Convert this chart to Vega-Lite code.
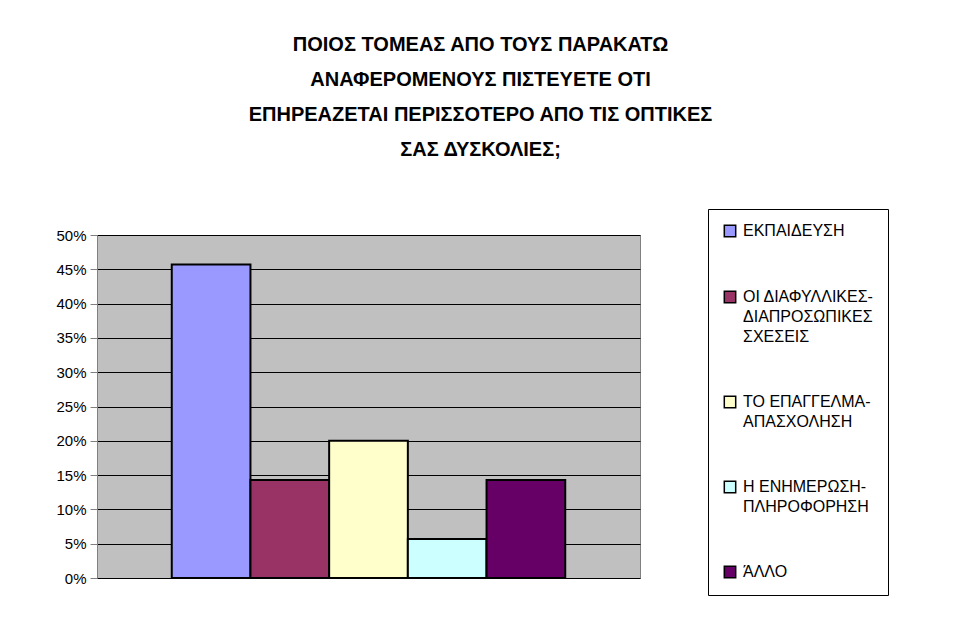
{
  "$schema": "https://vega.github.io/schema/vega-lite/v6.json",
  "width": 543,
  "height": 343,
  "autosize": {"type": "none"},
  "padding": {"left": 97, "top": 235, "right": 317, "bottom": 58},
  "background": "white",
  "title": {
    "text": ["ΠΟΙΟΣ ΤΟΜΕΑΣ ΑΠΟ ΤΟΥΣ ΠΑΡΑΚΑΤΩ", "ΑΝΑΦΕΡΟΜΕΝΟΥΣ ΠΙΣΤΕΥΕΤΕ ΟΤΙ", "ΕΠΗΡΕΑΖΕΤΑΙ ΠΕΡΙΣΣΟΤΕΡΟ ΑΠΟ ΤΙΣ ΟΠΤΙΚΕΣ", "ΣΑΣ ΔΥΣΚΟΛΙΕΣ;"],
    "font": "Liberation Sans",
    "fontSize": 20,
    "fontWeight": "bold",
    "color": "black",
    "lineHeight": 35,
    "anchor": "middle",
    "frame": "group",
    "dx": 112,
    "offset": 49
  },
  "data": {
    "values": [
      {"sector": "ΕΚΠΑΙΔΕΥΣΗ", "share": 0.457},
      {"sector": "ΟΙ ΔΙΑΦΥΛΛΙΚΕΣ-ΔΙΑΠΡΟΣΩΠΙΚΕΣ ΣΧΕΣΕΙΣ", "share": 0.143},
      {"sector": "ΤΟ ΕΠΑΓΓΕΛΜΑ-ΑΠΑΣΧΟΛΗΣΗ", "share": 0.2},
      {"sector": "Η ΕΝΗΜΕΡΩΣΗ-ΠΛΗΡΟΦΟΡΗΣΗ", "share": 0.057},
      {"sector": "ΆΛΛΟ", "share": 0.143}
    ]
  },
  "mark": {"type": "bar", "stroke": "black", "strokeWidth": 2},
  "encoding": {
    "x": {
      "field": "sector",
      "type": "nominal",
      "sort": null,
      "scale": {"paddingInner": 0, "paddingOuter": 0.95},
      "axis": null
    },
    "y": {
      "field": "share",
      "type": "quantitative",
      "scale": {"domain": [0, 0.5]},
      "axis": {
        "values": [0, 0.05, 0.1, 0.15, 0.2, 0.25, 0.3, 0.35, 0.4, 0.45, 0.5],
        "format": ".0%",
        "title": null,
        "grid": true,
        "gridColor": "black",
        "gridWidth": 1,
        "gridOpacity": 1,
        "domainColor": "#808080",
        "tickColor": "#808080",
        "tickSize": 7,
        "labelFont": "Liberation Sans",
        "labelFontSize": 15,
        "labelColor": "black",
        "labelPadding": 4
      }
    },
    "color": {
      "field": "sector",
      "type": "nominal",
      "sort": null,
      "scale": {
        "domain": ["ΕΚΠΑΙΔΕΥΣΗ", "ΟΙ ΔΙΑΦΥΛΛΙΚΕΣ-ΔΙΑΠΡΟΣΩΠΙΚΕΣ ΣΧΕΣΕΙΣ", "ΤΟ ΕΠΑΓΓΕΛΜΑ-ΑΠΑΣΧΟΛΗΣΗ", "Η ΕΝΗΜΕΡΩΣΗ-ΠΛΗΡΟΦΟΡΗΣΗ", "ΆΛΛΟ"],
        "range": ["#9999FF", "#993366", "#FFFFCC", "#CCFFFF", "#660066"]
      },
      "legend": {
        "title": null,
        "orient": "none",
        "legendX": 611,
        "legendY": -26,
        "strokeColor": "black",
        "fillColor": "white",
        "padding": 14,
        "rowPadding": 48,
        "symbolType": "square",
        "symbolSize": 130,
        "symbolStrokeColor": "black",
        "symbolStrokeWidth": 1.5,
        "symbolOpacity": 1,
        "labelFont": "Liberation Sans",
        "labelFontSize": 16,
        "labelColor": "black",
        "labelLimit": 300,
        "labelOffset": 5,
        "labelExpr": "datum.label == 'ΟΙ ΔΙΑΦΥΛΛΙΚΕΣ-ΔΙΑΠΡΟΣΩΠΙΚΕΣ ΣΧΕΣΕΙΣ' ? ['ΟΙ ΔΙΑΦΥΛΛΙΚΕΣ-', 'ΔΙΑΠΡΟΣΩΠΙΚΕΣ', 'ΣΧΕΣΕΙΣ'] : datum.label == 'ΤΟ ΕΠΑΓΓΕΛΜΑ-ΑΠΑΣΧΟΛΗΣΗ' ? ['ΤΟ ΕΠΑΓΓΕΛΜΑ-', 'ΑΠΑΣΧΟΛΗΣΗ'] : datum.label == 'Η ΕΝΗΜΕΡΩΣΗ-ΠΛΗΡΟΦΟΡΗΣΗ' ? ['Η ΕΝΗΜΕΡΩΣΗ-', 'ΠΛΗΡΟΦΟΡΗΣΗ'] : datum.label"
      }
    }
  },
  "config": {
    "view": {"fill": "#C0C0C0", "stroke": "#808080", "strokeWidth": 1},
    "style": {"guide-label": {"lineHeight": 20}}
  }
}
